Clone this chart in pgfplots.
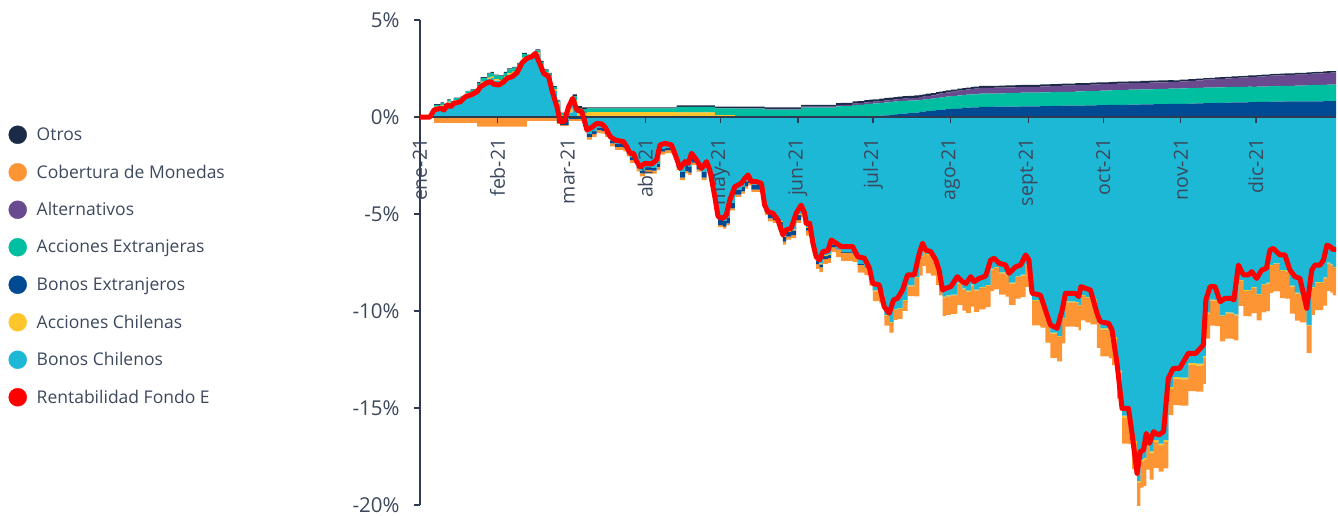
\documentclass[border=0pt]{standalone}
\usepackage{fontspec}
\setmainfont{Open Sans}
\usepackage{pgfplots}
\usepackage{pgfplotstable}
\pgfplotsset{compat=1.18}
\definecolor{cOT}{RGB}{27,42,71}
\definecolor{cCO}{RGB}{253,149,53}
\definecolor{cAL}{RGB}{106,74,142}
\definecolor{cAE}{RGB}{0,191,160}
\definecolor{cBE}{RGB}{0,74,147}
\definecolor{cAC}{RGB}{255,198,43}
\definecolor{cBC}{RGB}{28,184,214}
\definecolor{cRF}{RGB}{255,0,0}
\definecolor{txt}{RGB}{60,72,92}
\definecolor{axc}{RGB}{45,58,80}

\pgfplotstableread{
d red BCp ACp BEp AEp ALp OTp BCn ACn BEn COn
0 0 0 0 0 0 0 0 0 0 0 0
4 0 0 0 0 0 0 0 0 0 0 0
5.6 0.36 0.48 0.05 0 0.10 0 0.03 0 0 -0.05 -0.25
8.2 0.45 0.57 0.05 0 0.10 0 0.03 0 0 -0.05 -0.25
9.6 0.36 0.48 0.05 0 0.10 0 0.03 0 0 -0.05 -0.25
10.9 0.62 0.74 0.05 0 0.10 0 0.03 0 0 -0.05 -0.25
12.2 0.53 0.65 0.05 0 0.10 0 0.03 0 0 -0.05 -0.25
13.5 0.70 0.82 0.05 0 0.10 0 0.03 0 0 -0.05 -0.25
16.2 0.79 0.91 0.05 0 0.10 0 0.03 0 0 -0.05 -0.25
18.2 1.05 1.17 0.05 0 0.10 0 0.03 0 0 -0.05 -0.25
20.2 1.13 1.25 0.05 0 0.10 0 0.03 0 0 -0.05 -0.25
22.8 1.30 1.48 0.08 0 0.20 0 0.04 0 0 -0.05 -0.45
24.2 1.56 1.74 0.08 0 0.20 0 0.04 0 0 -0.05 -0.45
26.8 1.77 1.95 0.08 0 0.20 0 0.04 0 0 -0.05 -0.45
28.2 1.82 2.00 0.08 0 0.20 0 0.04 0 0 -0.05 -0.45
29.5 1.69 1.87 0.08 0 0.20 0 0.04 0 0 -0.05 -0.45
31.5 1.65 1.83 0.08 0 0.20 0 0.04 0 0 -0.05 -0.45
33.5 1.82 2.00 0.08 0 0.20 0 0.04 0 0 -0.05 -0.45
34.8 2.00 2.18 0.08 0 0.20 0 0.04 0 0 -0.05 -0.45
36.8 2.08 2.26 0.08 0 0.20 0 0.04 0 0 -0.05 -0.45
38.8 2.29 2.47 0.08 0 0.20 0 0.04 0 0 -0.05 -0.45
40.8 2.80 2.98 0.08 0 0.20 0 0.04 0 0 -0.05 -0.45
42.7 3.02 2.98 0.08 0 0.12 0 0.04 0 0 -0.05 -0.15
44.7 3.11 3.07 0.08 0 0.12 0 0.04 0 0 -0.05 -0.15
46.1 3.28 3.24 0.08 0 0.12 0 0.04 0 0 -0.05 -0.15
48.1 2.68 2.64 0.08 0 0.12 0 0.04 0 0 -0.05 -0.15
49.4 2.25 2.21 0.08 0 0.12 0 0.04 0 0 -0.05 -0.15
51.4 2.08 2.04 0.08 0 0.12 0 0.04 0 0 -0.05 -0.15
52.7 1.39 1.35 0.08 0 0.12 0 0.04 0 0 -0.05 -0.15
54.7 0.53 0.65 0.10 0 0.10 0 0.03 0 0 -0.30 -0.05
56.0 -0.24 0 0.10 0 0.10 0 0.03 -0.12 0 -0.30 -0.05
57.6 -0.24 0 0.10 0 0.10 0 0.03 -0.12 0 -0.30 -0.05
59.4 0.53 0.23 0.20 0 0.20 0 0.10 0 0 -0.10 -0.10
61.0 0.96 0.66 0.20 0 0.20 0 0.10 0 0 -0.10 -0.10
62.7 0.36 0.06 0.20 0 0.20 0 0.10 0 0 -0.10 -0.10
64.7 0.27 0 0.20 0 0.20 0 0.10 -0.03 0 -0.10 -0.10
66.7 -0.67 0 0.25 0 0.20 0 0.05 -0.87 0 -0.15 -0.15
68.7 -0.53 0 0.25 0 0.20 0 0.05 -0.73 0 -0.15 -0.15
70.6 -0.33 0 0.25 0 0.20 0 0.05 -0.53 0 -0.15 -0.15
72.6 -0.36 0 0.25 0 0.20 0 0.05 -0.56 0 -0.15 -0.15
74.0 -0.53 0 0.25 0 0.20 0 0.05 -0.73 0 -0.15 -0.15
76.0 -1.01 0 0.25 0 0.20 0 0.05 -1.21 0 -0.15 -0.15
78.0 -1.19 0 0.25 0 0.20 0 0.05 -1.39 0 -0.15 -0.15
81.3 -1.27 0 0.25 0 0.20 0 0.05 -1.47 0 -0.15 -0.15
82.6 -1.53 0 0.25 0 0.20 0 0.05 -1.73 0 -0.15 -0.15
83.9 -1.87 0 0.25 0 0.20 0 0.05 -2.07 0 -0.15 -0.15
85.3 -1.87 0 0.25 0 0.20 0 0.05 -2.07 0 -0.15 -0.15
86.6 -2.30 0 0.25 0 0.20 0 0.05 -2.50 0 -0.15 -0.15
87.9 -2.56 0 0.25 0 0.20 0 0.05 -2.76 0 -0.15 -0.15
89.9 -2.39 0 0.25 0 0.20 0 0.05 -2.59 0 -0.15 -0.15
92.5 -2.42 0 0.25 0 0.20 0 0.05 -2.62 0 -0.15 -0.15
94.5 -2.22 0 0.25 0 0.20 0 0.05 -2.42 0 -0.15 -0.15
95.9 -1.44 0 0.25 0 0.20 0 0.05 -1.64 0 -0.15 -0.15
97.9 -1.36 0 0.25 0 0.20 0 0.05 -1.56 0 -0.15 -0.15
100.5 -1.44 0 0.25 0 0.20 0 0.05 -1.64 0 -0.15 -0.15
102.5 -2.13 0 0.24 0 0.28 0 0.08 -2.31 0 -0.30 -0.12
103.9 -2.65 0 0.24 0 0.28 0 0.08 -2.83 0 -0.30 -0.12
105.9 -2.30 0 0.24 0 0.28 0 0.08 -2.48 0 -0.30 -0.12
107.2 -2.39 0 0.24 0 0.28 0 0.08 -2.57 0 -0.30 -0.12
108.5 -1.87 0 0.24 0 0.28 0 0.08 -2.05 0 -0.30 -0.12
110.5 -2.22 0 0.24 0 0.28 0 0.08 -2.40 0 -0.30 -0.12
112.5 -2.65 0 0.24 0 0.28 0 0.08 -2.83 0 -0.30 -0.12
114.5 -2.30 0 0.24 0 0.28 0 0.08 -2.48 0 -0.30 -0.12
115.8 -2.73 0 0.24 0 0.28 0 0.08 -2.91 0 -0.30 -0.12
117.8 -4.11 0 0.10 0 0.35 0 0.08 -4.24 0 -0.30 -0.10
119.1 -5.14 0 0.10 0 0.35 0 0.08 -5.27 0 -0.30 -0.10
121.1 -5.22 0 0.10 0 0.35 0 0.08 -5.35 0 -0.30 -0.10
122.4 -5.05 0 0.10 0 0.35 0 0.08 -5.18 0 -0.30 -0.10
123.8 -4.28 0 0.10 0 0.35 0 0.08 -4.41 0 -0.30 -0.10
125.8 -3.59 0 0.03 0 0.40 0.02 0.08 -3.75 0 -0.25 -0.12
128.4 -3.42 0 0.03 0 0.40 0.02 0.08 -3.58 0 -0.25 -0.12
129.8 -3.16 0 0.03 0 0.40 0.02 0.08 -3.32 0 -0.25 -0.12
131.1 -2.99 0 0.03 0 0.40 0.02 0.08 -3.15 0 -0.25 -0.12
132.4 -3.33 0 0.03 0 0.40 0.02 0.08 -3.49 0 -0.25 -0.12
134.4 -3.33 0 0.03 0 0.40 0.02 0.08 -3.49 0 -0.25 -0.12
136.4 -3.42 0 0.03 0 0.40 0.02 0.08 -3.58 0 -0.25 -0.12
137.7 -4.54 0 0 0 0.38 0.04 0.08 -4.59 -0.05 -0.25 -0.15
139.0 -4.88 0 0 0 0.38 0.04 0.08 -4.93 -0.05 -0.25 -0.15
141.0 -4.96 0 0 0 0.38 0.04 0.08 -5.01 -0.05 -0.25 -0.15
143.0 -5.31 0 0 0 0.38 0.04 0.08 -5.36 -0.05 -0.25 -0.15
145.0 -6.08 0 0 0 0.38 0.04 0.08 -6.13 -0.05 -0.25 -0.15
146.3 -5.82 0 0 0 0.38 0.04 0.08 -5.87 -0.05 -0.25 -0.15
148.3 -5.74 0 0 0 0.38 0.04 0.08 -5.79 -0.05 -0.25 -0.15
150.3 -4.96 0 0 0 0.38 0.04 0.08 -5.01 -0.05 -0.25 -0.15
152.3 -4.54 0 0 0 0.48 0.05 0.10 -4.72 -0.05 -0.15 -0.25
153.7 -4.96 0 0 0 0.48 0.05 0.10 -5.14 -0.05 -0.15 -0.25
154.3 -5.48 0 0 0 0.48 0.05 0.10 -5.66 -0.05 -0.15 -0.25
155.7 -5.48 0 0 0 0.48 0.05 0.10 -5.66 -0.05 -0.15 -0.25
157.0 -6.51 0 0 0 0.48 0.05 0.10 -6.69 -0.05 -0.15 -0.25
158.3 -7.20 0 0 0 0.48 0.05 0.10 -7.38 -0.05 -0.15 -0.25
159.6 -7.37 0 0 0 0.48 0.05 0.10 -7.55 -0.05 -0.15 -0.25
161.0 -6.94 0 0 0 0.48 0.05 0.10 -7.12 -0.05 -0.15 -0.25
163.0 -6.89 0 0 0 0.48 0.05 0.10 -7.07 -0.05 -0.15 -0.25
164.3 -6.34 0 0 0 0.48 0.05 0.10 -6.52 -0.05 -0.15 -0.25
166.3 -6.51 0 0 0.00 0.55 0.06 0.10 -6.77 0 -0.05 -0.40
168.3 -6.68 0 0 0.00 0.56 0.07 0.10 -6.96 0 -0.05 -0.40
172.9 -6.68 0 0 0.01 0.60 0.08 0.11 -7.03 0 -0.05 -0.40
174.9 -7.20 0 0 0.02 0.61 0.08 0.11 -7.57 0 -0.05 -0.40
177.6 -7.28 0 0 0.03 0.63 0.09 0.12 -7.70 0 -0.05 -0.40
179.6 -7.80 0 0 0.04 0.64 0.09 0.12 -8.24 0 -0.05 -0.40
180.9 -8.58 0 0 0.05 0.65 0.09 0.12 -8.94 -0.05 0 -0.50
183.5 -8.66 0 0 0.07 0.66 0.10 0.12 -9.06 -0.05 0 -0.50
185.5 -9.78 0 0 0.09 0.67 0.10 0.12 -10.21 -0.05 0 -0.50
187.5 -10.12 0 0 0.10 0.68 0.10 0.12 -10.57 -0.05 0 -0.50
189.2 -9.43 0 0 0.13 0.67 0.11 0.12 -9.91 -0.05 0 -0.50
190.8 -9.35 0 0 0.15 0.67 0.11 0.12 -9.85 -0.05 0 -0.50
192.8 -8.92 0 0 0.17 0.66 0.12 0.12 -9.44 -0.05 0 -0.50
194.8 -8.14 0 0 0.20 0.65 0.12 0.12 -8.68 -0.05 0 -0.50
197.5 -8.14 0 0 0.23 0.63 0.13 0.12 -8.25 -0.05 0 -0.95
199.5 -7.03 0 0 0.26 0.62 0.14 0.12 -7.17 -0.05 0 -0.95
200.8 -6.51 0 0 0.28 0.62 0.15 0.12 -6.68 -0.05 0 -0.95
202.1 -6.86 0 0 0.30 0.62 0.16 0.12 -7.06 -0.05 0 -0.95
204.1 -6.94 0 0 0.32 0.63 0.17 0.11 -7.17 -0.05 0 -0.95
206.1 -7.37 0 0 0.35 0.63 0.19 0.11 -7.65 -0.05 0 -0.95
207.4 -7.89 0 0 0.36 0.64 0.20 0.11 -8.20 -0.05 0 -0.95
208.8 -8.92 0 0 0.38 0.64 0.21 0.11 -9.26 -0.05 0 -0.95
210.1 -8.83 0 0 0.40 0.65 0.22 0.10 -9.20 -0.05 0 -0.95
212.1 -8.74 0 0 0.42 0.65 0.24 0.10 -9.15 -0.05 0 -0.95
214.7 -8.23 0 0 0.45 0.66 0.25 0.10 -8.54 -0.05 0 -1.10
216.7 -8.49 0 0 0.47 0.66 0.26 0.10 -8.83 -0.05 0 -1.10
218.1 -8.58 0 0 0.48 0.67 0.27 0.10 -8.95 -0.05 0 -1.10
220.1 -8.23 0 0 0.50 0.67 0.28 0.10 -8.63 -0.05 0 -1.10
221.4 -8.49 0 0 0.50 0.67 0.29 0.10 -8.90 -0.05 0 -1.10
223.4 -8.32 0 0 0.52 0.68 0.30 0.10 -8.77 -0.05 0 -1.10
226.0 -8.20 0 0 0.52 0.68 0.30 0.10 -8.65 -0.05 0 -1.10
228.0 -7.37 0 0 0.52 0.68 0.30 0.10 -7.82 -0.05 0 -1.10
229.4 -7.28 0 0 0.53 0.68 0.30 0.10 -7.74 -0.05 0 -1.10
231.4 -7.54 0 0 0.53 0.69 0.30 0.10 -8.01 -0.05 0 -1.10
234.0 -7.63 0 0 0.54 0.69 0.30 0.10 -8.11 -0.05 0 -1.10
235.3 -8.06 0 0 0.54 0.69 0.30 0.10 -8.54 -0.05 0 -1.10
238.0 -7.72 0 0 0.54 0.70 0.30 0.10 -8.21 -0.05 0 -1.10
240.0 -7.63 0 0 0.55 0.70 0.30 0.10 -8.13 -0.05 0 -1.10
242.0 -7.11 0 0 0.55 0.70 0.30 0.10 -7.61 -0.05 0 -1.10
243.3 -7.37 0 0 0.55 0.70 0.30 0.10 -7.87 -0.05 0 -1.10
244.6 -9.09 0 0 0.55 0.70 0.30 0.10 -9.44 -0.05 0 -1.25
247.9 -9.18 0 0 0.56 0.71 0.31 0.10 -9.56 -0.05 0 -1.25
249.9 -9.95 0 0 0.56 0.71 0.31 0.10 -10.33 -0.05 0 -1.25
251.9 -10.72 0 0 0.57 0.71 0.31 0.10 -11.11 -0.05 0 -1.25
254.6 -10.89 0 0 0.57 0.72 0.32 0.10 -11.30 -0.05 0 -1.25
256.6 -9.95 0 0 0.58 0.72 0.32 0.10 -10.37 -0.05 0 -1.25
257.9 -9.09 0 0 0.58 0.72 0.32 0.10 -9.51 -0.05 0 -1.25
261.9 -9.09 0 0 0.59 0.73 0.32 0.10 -9.53 -0.05 0 -1.25
263.2 -9.26 0 0 0.59 0.73 0.32 0.10 -9.70 -0.05 0 -1.25
264.1 -8.74 0 0 0.59 0.73 0.32 0.10 -9.18 -0.05 0 -1.25
265.9 -8.83 0 0 0.60 0.73 0.32 0.10 -9.28 -0.05 0 -1.25
267.9 -8.92 0 0 0.60 0.74 0.33 0.10 -9.39 -0.05 0 -1.25
270.5 -10.12 0 0 0.61 0.74 0.33 0.10 -10.60 -0.05 0 -1.25
271.8 -10.55 0 0 0.61 0.75 0.33 0.10 -10.89 -0.10 0 -1.35
275.2 -10.64 0 0 0.62 0.75 0.33 0.10 -10.99 -0.10 0 -1.35
276.5 -10.98 0 0 0.62 0.76 0.33 0.10 -11.34 -0.10 0 -1.35
278.5 -12.70 0 0 0.63 0.76 0.33 0.10 -13.07 -0.10 0 -1.35
280.5 -15.02 0 0 0.63 0.76 0.33 0.10 -15.39 -0.10 0 -1.35
283.1 -15.02 0 0 0.64 0.77 0.33 0.10 -15.41 -0.10 0 -1.35
284.5 -16.31 0 0 0.64 0.77 0.33 0.10 -16.70 -0.10 0 -1.35
286.5 -18.37 0 0 0.64 0.77 0.33 0.10 -18.76 -0.10 0 -1.35
287.8 -17.25 0 0 0.65 0.78 0.33 0.10 -17.66 -0.10 0 -1.35
289.1 -17.16 0 0 0.65 0.78 0.33 0.10 -17.57 -0.10 0 -1.35
290.2 -16.31 0 0 0.65 0.78 0.33 0.10 -16.72 -0.10 0 -1.35
291.5 -16.82 0 0 0.65 0.78 0.34 0.10 -17.24 -0.10 0 -1.35
293.1 -16.22 0 0 0.66 0.78 0.34 0.10 -16.65 -0.10 0 -1.35
295.1 -16.39 0 0 0.66 0.79 0.34 0.10 -16.83 -0.10 0 -1.35
297.1 -16.22 0 0 0.66 0.79 0.34 0.10 -16.66 -0.10 0 -1.35
299.0 -13.47 0 0 0.67 0.79 0.34 0.10 -13.92 -0.10 0 -1.35
301.0 -12.96 0 0 0.67 0.79 0.34 0.09 -13.40 -0.10 0 -1.35
303.5 -12.96 0 0 0.68 0.80 0.35 0.09 -13.43 -0.10 0 -1.35
307.0 -12.18 0 0 0.69 0.80 0.37 0.09 -12.68 -0.10 0 -1.35
310.0 -12.18 0 0 0.70 0.80 0.39 0.09 -12.71 -0.10 0 -1.35
313.0 -11.75 0 0 0.71 0.80 0.41 0.09 -12.31 -0.10 0 -1.35
314.0 -9.43 0 0 0.71 0.80 0.41 0.08 -10.08 -0.05 0 -1.30
315.7 -8.74 0 0 0.72 0.80 0.42 0.08 -9.41 -0.05 0 -1.30
317.7 -8.74 0 0 0.73 0.80 0.43 0.08 -9.43 -0.05 0 -1.30
319.7 -9.52 0 0 0.73 0.80 0.44 0.08 -10.22 -0.05 0 -1.30
321.7 -9.35 0 0 0.74 0.80 0.45 0.08 -10.07 -0.05 0 -1.30
324.3 -9.35 0 0 0.75 0.80 0.46 0.08 -10.09 -0.05 0 -1.30
325.2 -9.43 0 0 0.75 0.79 0.47 0.08 -10.17 -0.05 0 -1.30
327.0 -7.63 0 0 0.76 0.79 0.48 0.08 -8.39 -0.05 0 -1.30
329.0 -8.14 0 0 0.76 0.79 0.49 0.08 -8.91 -0.05 0 -1.30
331.0 -8.14 0 0 0.77 0.79 0.50 0.08 -8.93 -0.05 0 -1.30
332.3 -7.97 0 0 0.77 0.78 0.51 0.08 -8.76 -0.05 0 -1.30
334.3 -8.32 0 0 0.78 0.78 0.52 0.08 -9.13 -0.05 0 -1.30
336.3 -7.89 0 0 0.78 0.79 0.53 0.08 -8.62 -0.05 0 -1.40
338.2 -7.80 0 0 0.78 0.79 0.54 0.08 -8.54 -0.05 0 -1.40
339.6 -6.86 0 0 0.79 0.80 0.54 0.08 -7.62 -0.05 0 -1.40
340.9 -6.77 0 0 0.79 0.80 0.55 0.08 -7.54 -0.05 0 -1.40
343.6 -7.11 0 0 0.79 0.81 0.55 0.08 -7.89 -0.05 0 -1.40
345.6 -7.11 0 0 0.80 0.81 0.56 0.08 -7.91 -0.05 0 -1.40
347.6 -7.89 0 0 0.80 0.81 0.56 0.08 -8.69 -0.05 0 -1.40
349.6 -8.23 0 0 0.80 0.82 0.57 0.08 -9.05 -0.05 0 -1.40
351.6 -8.32 0 0 0.80 0.82 0.57 0.08 -9.14 -0.05 0 -1.40
354.3 -9.86 0 0 0.81 0.83 0.58 0.08 -10.71 -0.05 0 -1.40
356.3 -7.89 0 0 0.81 0.83 0.59 0.08 -8.75 -0.05 0 -1.40
357.6 -7.63 0 0 0.81 0.84 0.59 0.08 -8.50 -0.05 0 -1.40
359.6 -7.63 0 0 0.81 0.84 0.60 0.08 -8.51 -0.05 0 -1.40
361.0 -7.37 0 0 0.82 0.84 0.61 0.08 -8.27 -0.05 0 -1.40
362.4 -6.60 0 0 0.82 0.85 0.61 0.08 -7.51 -0.05 0 -1.40
363.7 -6.68 0 0 0.82 0.85 0.62 0.08 -7.60 -0.05 0 -1.40
364.7 -6.82 0 0 0.82 0.85 0.62 0.08 -7.74 -0.05 0 -1.40
366 -6.82 0 0 0.82 0.85 0.62 0.08 -7.74 -0.05 0 -1.40
}\data

\pgfplotsset{
  base/.style={scale only axis, width=916pt, height=485pt,
    xmin=0, xmax=366, ymin=-20, ymax=5,
    at={(0pt,0pt)}, anchor=south west},
  stk/.style={const plot, draw=none, fill=#1},
}

\begin{document}
\begin{tikzpicture}
\useasboundingbox (-420pt,-10pt) rectangle (918pt,505pt);
% negative contributions
\begin{axis}[base, hide axis, stack plots=y]
\addplot[stk=cBC] table[x=d,y=BCn]{\data} \closedcycle;
\addplot[stk=cAC] table[x=d,y=ACn]{\data} \closedcycle;
\addplot[stk=cBE] table[x=d,y=BEn]{\data} \closedcycle;
\addplot[stk=cCO] table[x=d,y=COn]{\data} \closedcycle;
\end{axis}
% positive contributions
\begin{axis}[base, hide axis, stack plots=y]
\addplot[stk=cBC] table[x=d,y=BCp]{\data} \closedcycle;
\addplot[stk=cAC] table[x=d,y=ACp]{\data} \closedcycle;
\addplot[stk=cBE] table[x=d,y=BEp]{\data} \closedcycle;
\addplot[stk=cAE] table[x=d,y=AEp]{\data} \closedcycle;
\addplot[stk=cAL] table[x=d,y=ALp]{\data} \closedcycle;
\addplot[stk=cOT] table[x=d,y=OTp]{\data} \closedcycle;
\end{axis}
% axes, total return, legend
\begin{axis}[base,
  axis x line=middle, axis y line=left,
  axis line style={-, draw=axc, line width=1.3pt},
  xtick={0,31,59,90,120,151,181,212,243,273,304,334},
  xticklabels={ene-21,feb-21,mar-21,abr-21,may-21,jun-21,jul-21,ago-21,sept-21,oct-21,nov-21,dic-21},
  every x tick label/.style={},
  xticklabel style={yshift=-12pt, rotate=90, anchor=east, font=\fontsize{19.5}{22}\selectfont, text=txt},
  ytick={-20,-15,-10,-5,0,5},
  yticklabels={-20\%,-15\%,-10\%,-5\%,0\%,5\%},
  yticklabel style={font=\fontsize{20.5}{24}\selectfont, text=txt},
  yticklabel shift=11pt,
  tick style={draw=axc, line width=1.3pt},
  major tick length=6pt,
  tick align=outside,
  hide obscured x ticks=false, hide obscured y ticks=false,
  legend cell align=left,
  legend style={at={(-0.4492,0.4928)}, anchor=west, draw=none, fill=none,
    inner sep=0pt, row sep=19.5pt, font=\fontsize{17.5}{21}\selectfont, text=txt,
    nodes={inner sep=1pt},
    /tikz/every odd column/.append style={column sep=9pt}},
]
\addplot[cRF, line width=5pt, line join=round, forget plot] table[x=d,y=red]{\data};
\addlegendimage{only marks, mark=*, mark size=9pt, color=cOT}
\addlegendentry{Otros}
\addlegendimage{only marks, mark=*, mark size=9pt, color=cCO}
\addlegendentry{Cobertura de Monedas}
\addlegendimage{only marks, mark=*, mark size=9pt, color=cAL}
\addlegendentry{Alternativos}
\addlegendimage{only marks, mark=*, mark size=9pt, color=cAE}
\addlegendentry{Acciones Extranjeras}
\addlegendimage{only marks, mark=*, mark size=9pt, color=cBE}
\addlegendentry{Bonos Extranjeros}
\addlegendimage{only marks, mark=*, mark size=9pt, color=cAC}
\addlegendentry{Acciones Chilenas}
\addlegendimage{only marks, mark=*, mark size=9pt, color=cBC}
\addlegendentry{Bonos Chilenos}
\addlegendimage{only marks, mark=*, mark size=9pt, color=cRF}
\addlegendentry{Rentabilidad Fondo E}
\end{axis}
\end{tikzpicture}
\end{document}
